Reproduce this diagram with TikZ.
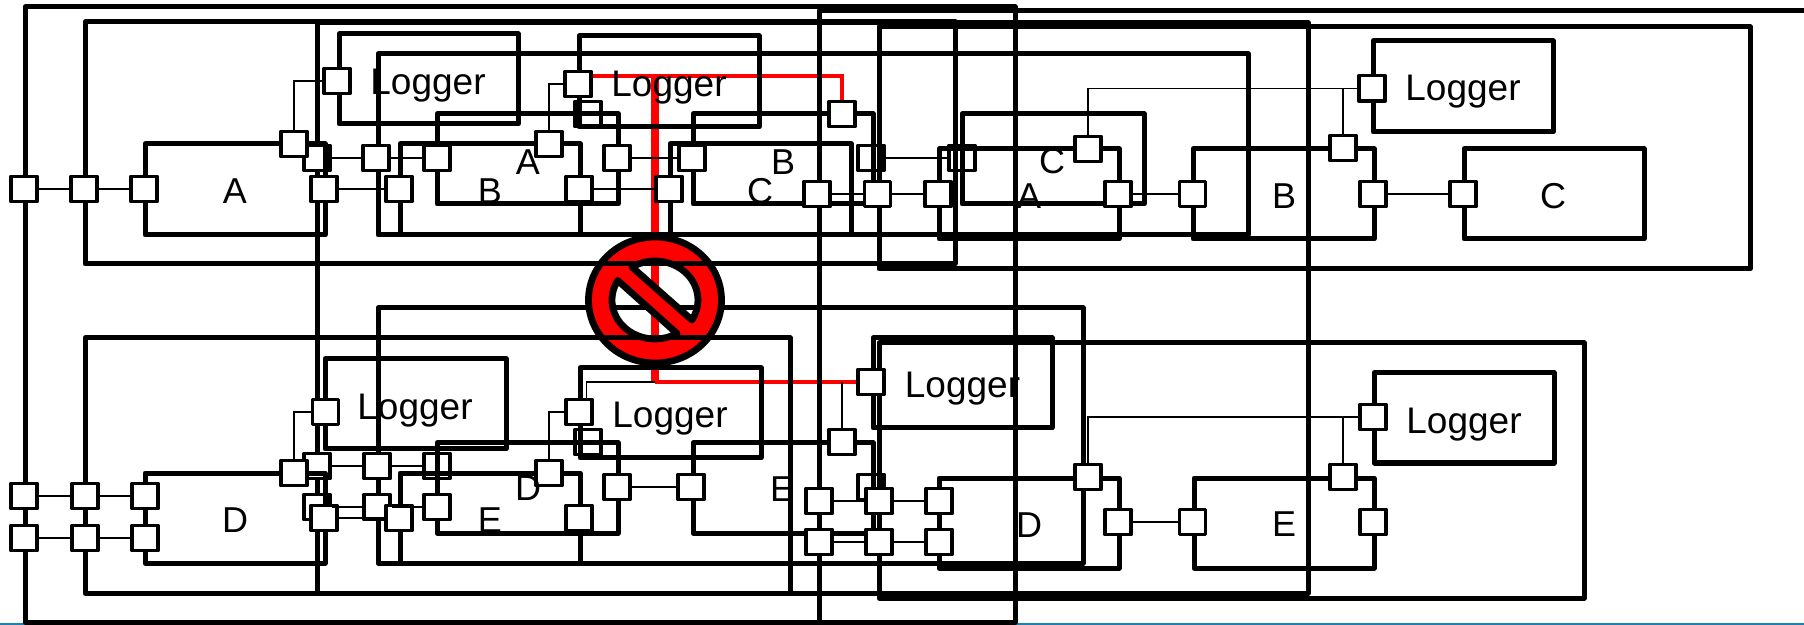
\documentclass[tikz,border=0pt]{standalone}
\usepackage{fontspec}
\setmainfont{Liberation Sans}
\pgfdeclarelayer{back}
\pgfsetlayers{back,main}
\tikzset{
  frame/.style={line width=2.5pt, line join=round},
  port/.style={draw, fill=white, line width=1.7pt, line join=round, minimum width=13pt, minimum height=12.7pt, inner sep=0pt},
  wire/.style={line width=0.9pt},
  redwire/.style={red, line width=2.4pt},
  redbar/.style={red, line width=4pt},
  nosign/.style={draw, fill=red, even odd rule, line width=3.4pt, line join=round},
  label/.style={font=\fontsize{18}{18}\selectfont, inner sep=0pt},
  loglabel/.style={font=\fontsize{18.5}{19}\selectfont, inner sep=0pt}
}
\begin{document}
\begin{tikzpicture}[x=0.5pt, y=-0.5pt]
  \useasboundingbox (0,0) rectangle (1804,625);
  \clip (0,0) rectangle (1804,625);
  \draw[color={rgb,255:red,31;green,127;blue,176}, line width=1pt] (0,624.3) -- (1804,624.3);
  \draw[frame] (25,7) rectangle (1015,622);
  \draw[frame] (1804,11) -- (819,11) -- (819,622) -- (1015,622);
  \draw[frame] (317,23) rectangle (1308,593);
  \draw[frame] (378,308) rectangle (1083,563);
  \draw[nosign] (655,300) ellipse [x radius=66.5, y radius=63]
    (655,300) ++(-122.4:43 and 39) arc[start angle=-122.4, end angle=30.9, x radius=43, y radius=39] -- cycle
    (655,300) ++(210:43 and 39) arc[start angle=210, end angle=59.2, x radius=43, y radius=39] -- cycle;
  \node[port] (pbA) at (317,158) {};
  \node[port] (pbB) at (588,114) {};
  \node[port] (pbC) at (871,158) {};
  \node[port] (pbD) at (962,158) {};
  \node[port] (pdA) at (317,466) {};
  \node[port] (pdB) at (317,507) {};
  \node[port] (pdC) at (437,466) {};
  \node[port] (pdD) at (588,442) {};
  \node[port] (pdE) at (871,487) {};
  \draw[frame] (85,22) rectangle (955,264);
  \draw[frame] (879,27) rectangle (1750,269);
  \draw[frame] (879,343) rectangle (1584,598);
  \draw[frame] (85,338) rectangle (790,593);
  \draw[frame] (378,54) rectangle (1248,235);
  \draw[frame] (145,144) rectangle (325,235);
  \draw[frame] (339,34) rectangle (518,124);
  \draw[frame] (579,36) rectangle (759,127);
  \draw[frame] (437,114) rectangle (618,204);
  \draw[frame] (400,144) rectangle (580,235);
  \draw[frame] (693,114) rectangle (873,204);
  \draw[frame] (670,144) rectangle (851,235);
  \draw[frame] (939,149) rectangle (1119,239);
  \draw[frame] (962,114) rectangle (1144,204);
  \draw[frame] (1193,149) rectangle (1374,239);
  \draw[frame] (1464,149) rectangle (1644,239);
  \draw[frame] (1373,41) rectangle (1553,132);
  \draw[frame] (145,473) rectangle (325,563);
  \draw[frame] (325,359) rectangle (506,449);
  \draw[frame] (580,368) rectangle (761,458);
  \draw[frame] (437,443) rectangle (618,533);
  \draw[frame] (400,473) rectangle (580,563);
  \draw[frame] (693,443) rectangle (873,533);
  \draw[frame] (939,478) rectangle (1119,568);
  \draw[frame] (873,338) rectangle (1052,428);
  \draw[frame] (1194,478) rectangle (1374,568);
  \draw[frame] (1374,373) rectangle (1554,463);
  \node[port] (paA) at (24,189) {};
  \node[port] (paB) at (84,189) {};
  \node[port] (paC) at (144,189) {};
  \node[port] (paD) at (324,189) {};
  \node[port] (paE) at (294,144) {};
  \node[port] (paF) at (376,158) {};
  \node[port] (paG) at (399,189) {};
  \node[port] (paH) at (437,158) {};
  \node[port] (paI) at (549,144) {};
  \node[port] (paJ) at (579,189) {};
  \node[port] (paK) at (617,158) {};
  \node[port] (paL) at (692,158) {};
  \node[port] (paM) at (669,189) {};
  \node[port] (paN) at (842,114) {};
  \node[port] (paO) at (817,194) {};
  \node[port] (paP) at (877.5,194) {};
  \node[port] (paQ) at (938,194) {};
  \node[port] (paR) at (1088,149) {};
  \node[port] (paS) at (1118,194) {};
  \node[port] (paT) at (1192.5,194) {};
  \node[port] (paU) at (1343,148) {};
  \node[port] (paV) at (1373,194) {};
  \node[port] (paW) at (1463,194) {};
  \node[port] (logA) at (337,81) {};
  \node[port] (logB) at (578,84) {};
  \node[port] (logC) at (1372,88.5) {};
  \node[port] (pcA) at (24,496) {};
  \node[port] (pcB) at (85,496) {};
  \node[port] (pcC) at (145,496) {};
  \node[port] (pcD) at (24,538) {};
  \node[port] (pcE) at (85,538) {};
  \node[port] (pcF) at (145,538) {};
  \node[port] (pcG) at (294,473) {};
  \node[port] (pcH) at (324,518) {};
  \node[port] (pcI) at (377,466) {};
  \node[port] (pcJ) at (377,507) {};
  \node[port] (pcK) at (399,518) {};
  \node[port] (pcL) at (437,507) {};
  \node[port] (pcM) at (549,473) {};
  \node[port] (pcN) at (579,518) {};
  \node[port] (pcO) at (617,487) {};
  \node[port] (pcP) at (691,487) {};
  \node[port] (pcQ) at (842,442) {};
  \node[port] (pcR) at (819,501) {};
  \node[port] (pcS) at (879,501) {};
  \node[port] (pcT) at (939,501) {};
  \node[port] (pcU) at (819,542) {};
  \node[port] (pcV) at (879,542) {};
  \node[port] (pcW) at (939,542) {};
  \node[port] (pcX) at (1088,477) {};
  \node[port] (pcY) at (1118,522) {};
  \node[port] (pcZ) at (1192.5,522) {};
  \node[port] (pcAA) at (1343,477) {};
  \node[port] (pcAB) at (1373,522) {};
  \node[port] (logD) at (325.5,412) {};
  \node[port] (logE) at (579,412) {};
  \node[port] (logF) at (871,382) {};
  \node[port] (logG) at (1373,417) {};
  \coordinate (tapD) at (586.5,382);
  \coordinate (redDrop) at (654.5,76);
  \coordinate (redTurn) at (842,76);
  \coordinate (redLow) at (654.5,382);
  \draw[wire] (paA) -- (paB);
  \draw[wire] (paB) -- (paC);
  \draw[wire] (paE.north) |- (logA.west);
  \draw[wire] (pbA) -- (paF);
  \draw[wire] (paF) -- (paH);
  \draw[wire] (paD) -- (paG);
  \draw[wire] (paI.north) |- (logB.west);
  \draw[wire] (paJ) -- (paM);
  \draw[wire] (paK) -- (paL);
  \draw[wire] (paO) -- (paP);
  \draw[wire] (paP) -- (paQ);
  \draw[wire] (pbC) -- (pbD);
  \draw[wire] (paR.north) |- (logC.west);
  \draw[wire] (paU.north) -- (paU.north |- logC.west);
  \draw[wire] (paS) -- (paT);
  \draw[wire] (paV) -- (paW);
  \draw[wire] (pcA) -- (pcB);
  \draw[wire] (pcB) -- (pcC);
  \draw[wire] (pcD) -- (pcE);
  \draw[wire] (pcE) -- (pcF);
  \draw[wire] (pcG.north) |- (logD.west);
  \draw[wire] (pdA) -- (pcI);
  \draw[wire] (pcI) -- (pdC);
  \draw[wire] (pdB) -- (pcJ);
  \draw[wire] (pcJ) -- (pcL);
  \draw[wire] (pcH) -- (pcK);
  \draw[wire] (pcM.north) |- (logE.west);
  \draw[wire] (tapD |- logE.north) -- (tapD) -- (redLow);
  \draw[wire] (pcQ.north) -- (pcQ.north |- logF.west);
  \draw[wire] (pcO) -- (pcP);
  \draw[wire] (pcR) -- (pcS);
  \draw[wire] (pcS) -- (pcT);
  \draw[wire] (pcU) -- (pcV);
  \draw[wire] (pcV) -- (pcW);
  \draw[wire] (pcX.north) |- (logG.west);
  \draw[wire] (pcAA.north) -- (pcAA.north |- logG.west);
  \draw[wire] (pcY) -- (pcZ);
  \begin{pgfonlayer}{back}
    \draw[redwire] (logB.east |- redTurn) -- (redTurn) -- (paN.north);
    \draw[redbar] (redDrop) -- (redLow);
    \draw[redwire] (redLow) -- (logF.west);
  \end{pgfonlayer}
  \node[label] (txA) at (235,191) {A};
  \node[label] (txB) at (490,191) {B};
  \node[label] (txC) at (528,162) {A};
  \node[label] (txD) at (783,162) {B};
  \node[label] (txE) at (760,191) {C};
  \node[label] (txF) at (1029,196) {A};
  \node[label] (txG) at (1052,161) {C};
  \node[label] (txH) at (1284,196) {B};
  \node[label] (txI) at (1553,196) {C};
  \node[label] (txJ) at (235,520) {D};
  \node[label] (txK) at (490,520) {E};
  \node[label] (txL) at (528,488) {D};
  \node[label] (txM) at (782,489) {E};
  \node[label] (txN) at (1029,525) {D};
  \node[label] (txO) at (1284,524) {E};
  \node[loglabel] (lgA) at (428,86) {Logger};
  \node[loglabel] (lgB) at (669,88) {Logger};
  \node[loglabel] (lgC) at (1463,92) {Logger};
  \node[loglabel] (lgD) at (415,411) {Logger};
  \node[loglabel] (lgE) at (670,419) {Logger};
  \node[loglabel] (lgF) at (962.5,389) {Logger};
  \node[loglabel] (lgG) at (1464,425) {Logger};
\end{tikzpicture}
\end{document}
